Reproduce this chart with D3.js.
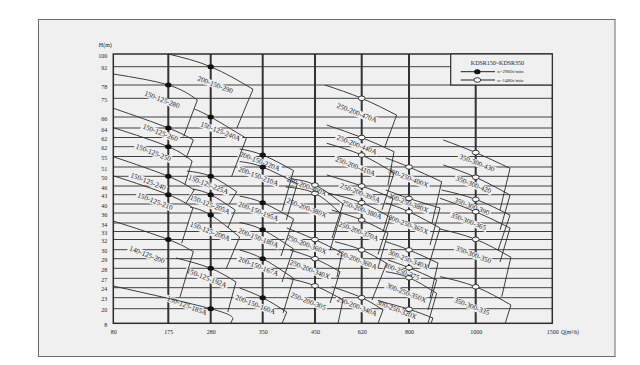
<!DOCTYPE html>
<head>
  <meta charset="utf-8">
  <script src="https://d3js.org/d3.v7.min.js"></script>
  <style>
    body { margin:0; background:#fff; }
    text { font-family: "Liberation Serif", "DejaVu Serif", serif; fill:#1e1e1e; }
    .grid-h { stroke:#404040; stroke-width:1; }
    .grid-v { stroke:#333; stroke-width:2; }
    .curve { fill:none; stroke:#2a2a2a; stroke-width:0.9; }
    .axis text { font-size:6px; }
    .label { font-size:7.2px; }
  </style>
</head>
<body>
  <svg id="chart" width="640" height="365"></svg>
  <script>
  var qTicks = [80, 175, 280, 350, 450, 620, 800, 1000, 1500];
  var hTicks = ["100","92","78","75","66","64","62","62","55","51","50","46","43",
                "40","36","34","33","32","30","29","28","27","24","23","20","8"];

  // each pump: name, left end, rated point, right end, foot of boundary line, label spot
  // points are [Q, H row]; H rows count down the ruled lines from the top (100 = row 0)
  var pumps175 = [
    ["150-125-280", [80,1.40], [175,2],  [247,3.09],  [213,5.89],  [164,3.09]],
    ["150-125-260", [80,3.53], [175,5],  [237,6.27],  [219,8.14],  [161,5.53]],
    ["150-125-250", [80,4.97], [175,7],  [234,8.43],  [216,10.85], [149,7.64]],
    ["150-125-240", [80,8.02], [175,10], [239,11.46], [219,12.89], [140,10.56]],
    ["150-125-210", [80,9.94], [175,12], [236,13.44], [208,17.37], [152,12.75]],
    ["140-125-200", [80,14.8], [175,17], [237,18.22], [204,22.93], [138,18.59]]
  ];
  var pumps280 = [
    ["200-150-290",  [175,0],     [280,1],    [337,2.32],  [315,5.05],  [286,2]],
    ["150-125-240A", [239,3.57],  [280,4],    [328,6.09],  [308,10.04], [293,5.39]],
    ["150-125-225A", [221,9.43],  [280,10],   [315,11.66], [305,13],    [274,10.9]],
    ["150-125-205A", [236,11.34], [280,12],   [313,13.67], [303,15.59], [278,13.11]],
    ["150-125-200A", [229,13.33], [280,14.2], [319,16.69], [301,20],    [278,16.03]],
    ["150-125-192A", [194,18.92], [280,20],   [314,21.39], [303,24.23], [270,21]],
    ["150-125-185A", [80,21.82],  [280,24],   [310,24.66], [307,25],    [221,23.75]]
  ];
  var pumps350 = [
    ["200-150-220A", [319,7.23],  [350,7.85],  [409,9.38],  [387,13.78], [346,8.5]],
    ["200-150-210A", [319,8.48],  [350,9],     [416,10.79], [395,14.7],  [344,10.04]],
    ["200-150-195A", [319,12.15], [350,12.86], [409,14.6],  [385,18.7],  [344,13.86]],
    ["200-150-180A", [319,14.95], [350,15.8],  [409,17.93], [387,21.39], [344,16.85]],
    ["200-150-167A", [319,18.03], [350,19],    [409,21],    [389,24.29], [344,19.83]],
    ["200-150-160A", [319,22.03], [350,23],    [396,24.23], [387,25],    [340,23.66]]
  ];
  var pumps450 = [
    ["250-200-400X", [406,10.28], [450,10.9],  [552,13],    [512,16.81], [434,11.08]],
    ["250-200-380X", [394,11.11], [450,11.85], [545,14.1],  [505,18.03], [434,13.48]],
    ["250-200-360X", [396,15.59], [450,17],    [548,18.37], [530,20.87], [434,17.54]],
    ["250-200-340X", [402,18.03], [450,19],    [541,20.34], [505,23.48], [440,20.17]],
    ["250-200-305",  [396,20.97], [450,21.8],  [552,23.21], [534,25],    [437,23.36]]
  ];
  var pumps620 = [
    ["250-200-470A", [486,2],     [620,3],     [753,3.9],   [708,7.03],  [602,3.8]],
    ["250-200-440A", [493,4.73],  [620,6],     [743,7.51],  [720,10.9],  [602,6.82]],
    ["250-200-410A", [493,6.63],  [620,7.85],  [743,9.65],  [697,13.67], [596,8.97]],
    ["250-200-395A", [493,9.86],  [620,11],    [739,12.38], [701,16.06], [614,11.84]],
    ["250-200-380A", [497,11.8],  [620,12.86], [728,14.41], [682,18.53], [620,13.67]],
    ["250-200-370A", [511,13.67], [620,14.7],  [720,16.18], [682,19.96], [608,16.02]],
    ["250-200-360A", [523,17.22], [620,18.03], [715,19.48], [659,23.21], [602,19.14]],
    ["250-200-340A", [511,21.89], [620,23],    [701,24.09], [682,25],    [602,23.82]]
  ];
  var pumps800 = [
    ["300-250-400X", [712,8.14],  [800,9],     [898,10.56], [869,15],    [797,10.2]],
    ["300-250-380X", [712,11.46], [800,12.4],  [893,13.44], [863,17.54], [797,12.93]],
    ["300-250-365X", [712,12.89], [800,13.86], [893,15.59], [857,19.97], [797,15.24]],
    ["300-250-340X", [712,17.22], [800,18.03], [887,19.45], [863,23.03], [797,19.14]],
    ["300-250-375",  [720,19.14], [800,19.94], [883,21.17], [857,24.09], [772,20.34]],
    ["300-250-350X", [712,20.34], [800,20.94], [883,22.56], [857,25],    [790,22.56]],
    ["300-250-320X", [682,23.27], [800,24.04], [872,24.64], [866,25],    [753,24.09]]
  ];
  var pumps1000 = [
    ["350-300-430", [903,6.27],  [1000,7.6],   [1224,9.14],  [1159,13.67], [1007,8.65]],
    ["350-300-420", [903,8.81],  [1000,10.1],  [1224,12.03], [1159,15.82], [993,10.9]],
    ["350-300-390", [898,11.46], [1000,12.5],  [1224,14.22], [1146,18.03], [988,13.3]],
    ["350-300-365", [893,12.38], [1000,13.86], [1224,15.59], [1159,19.34], [978,14.87]],
    ["350-300-350", [893,15.71], [1000,16.98], [1230,18.84], [1170,22.9],  [993,18.59]],
    ["350-300-335", [893,20.84], [1000,21.9],  [1230,23.66], [1193,25],    [988,23.82]]
  ];

  var legendTitle = "KDSR150~KDSR350";
  var speedLabels = ["n=2960r/min", "n=1480r/min"];

  // 2960 r/min pumps are filled dots, 1480 r/min are open
  var families = [
    {pumps: pumps175, fast: true}, {pumps: pumps280, fast: true}, {pumps: pumps350, fast: true},
    {pumps: pumps450, fast: false}, {pumps: pumps620, fast: false},
    {pumps: pumps800, fast: false}, {pumps: pumps1000, fast: false}
  ];

  var bg = "#f0f0f0";
  var ink = "#262626";
  var labelAngle = 21;
  var legendLeft = 450.7;

  var svg = d3.select("#chart");

  svg.append("rect")
    .attr("x", 38.5).attr("y", 19.5)
    .attr("width", 576.5).attr("height", 337)
    .attr("fill", bg).attr("stroke", "#6a6a6a").attr("stroke-width", 1);

  // the original spaces its ticks by hand, so both scales are piecewise
  var x = d3.scaleLinear()
    .domain(qTicks)
    .range([113.3, 168.3, 210.7, 262.7, 315, 361.7, 409, 475.7, 552.3]);

  var y = d3.scaleLinear()
    .domain(d3.range(hTicks.length))
    .range([54, 66.7, 85, 98.3, 117, 128, 137.5, 146.7, 156.5, 167, 176.3, 186, 194.7,
            204, 213, 223, 231.5, 239.5, 249.7, 258.7, 268.3, 278.3, 287.7, 297.7, 308.7, 323.3]);

  var lastRow = hTicks.length - 1;

  var gridLayer = svg.append("g");
  var maskLayer = svg.append("g");
  var curveLayer = svg.append("g");
  var dotLayer = svg.append("g");
  var labelLayer = svg.append("g");

  // ruled lines
  gridLayer.selectAll(".grid-h")
    .data(d3.range(1, lastRow))
    .enter().append("line")
    .attr("class", "grid-h")
    .attr("x1", x(qTicks[0]))
    .attr("x2", function(d) { return d === 1 ? legendLeft : x(qTicks[qTicks.length - 1]); })
    .attr("y1", function(d) { return y(d); })
    .attr("y2", function(d) { return y(d); });

  gridLayer.selectAll(".grid-v")
    .data(qTicks.slice(1, -1))
    .enter().append("line")
    .attr("class", "grid-v")
    .attr("x1", function(d) { return x(d); })
    .attr("x2", function(d) { return x(d); })
    .attr("y1", function(d) { return d === 1000 ? y(2) : y(0); })
    .attr("y2", y(lastRow));

  gridLayer.append("rect")
    .attr("x", x(qTicks[0])).attr("y", y(0))
    .attr("width", x(qTicks[qTicks.length - 1]) - x(qTicks[0]))
    .attr("height", y(lastRow) - y(0))
    .attr("fill", "none").attr("stroke", "#2e2e2e").attr("stroke-width", 1.5);

  // axes
  var xAxis = d3.axisBottom(x).tickValues(qTicks)
    .tickFormat(function(d) { return String(d); })
    .tickSize(0).tickPadding(6);
  var yAxis = d3.axisLeft(y).tickValues(d3.range(hTicks.length))
    .tickFormat(function(i) { return hTicks[i]; })
    .tickSize(0).tickPadding(6);

  svg.append("g").attr("class", "axis")
    .attr("transform", "translate(0," + y(lastRow) + ")")
    .call(xAxis)
    .call(function(g) { g.select(".domain").remove(); });

  svg.append("g").attr("class", "axis")
    .attr("transform", "translate(" + x(qTicks[0]) + ",0)")
    .call(yAxis)
    .call(function(g) { g.select(".domain").remove(); })
    .selectAll("text").attr("dy", "0.5em");

  svg.selectAll(".axis text").attr("font-family", null).attr("fill", ink);

  svg.append("text")
    .attr("x", 105.3).attr("y", 47)
    .attr("text-anchor", "middle")
    .attr("fill", ink)
    .style("font-size", "6px")
    .text("H(m)");

  svg.append("text")
    .attr("x", 561).attr("y", 333.6)
    .attr("fill", ink)
    .style("font-size", "5.5px")
    .text("Q(m³/h)");

  // pump curves
  var curveLine = d3.line()
    .x(function(d) { return x(d[0]); })
    .y(function(d) { return y(d[1]); })
    .curve(d3.curveNatural);

  families.forEach(function(fam) {
    fam.pumps.forEach(function(p) {
      curveLayer.append("path")
        .attr("class", "curve")
        .attr("d", curveLine([p[1], p[2], p[3]]));

      curveLayer.append("line")
        .attr("class", "curve")
        .attr("x1", x(p[3][0])).attr("y1", y(p[3][1]))
        .attr("x2", x(p[4][0])).attr("y2", y(p[4][1]));

      drawDot(dotLayer, x(p[2][0]), y(p[2][1]), fam.fast);

      var lx = x(p[5][0]), ly = y(p[5][1]);
      var t = labelLayer.append("text")
        .attr("class", "label")
        .attr("fill", ink)
        .attr("text-anchor", "middle")
        .attr("dominant-baseline", "central")
        .attr("transform", "translate(" + lx + "," + ly + ") rotate(" + labelAngle + ")")
        .text(p[0]);

      // clear the ruled lines behind each label, as the print does
      var w = t.node().getComputedTextLength() + 3;
      maskLayer.append("rect")
        .attr("x", -w / 2).attr("y", -3.5)
        .attr("width", w).attr("height", 7)
        .attr("fill", bg)
        .attr("transform", "translate(" + lx + "," + ly + ") rotate(" + labelAngle + ")");
    });
  });

  function drawDot(g, cx, cy, fast) {
    g.append("ellipse")
      .attr("cx", cx).attr("cy", cy)
      .attr("rx", fast ? 3.2 : 3.4).attr("ry", fast ? 2.5 : 2.3)
      .attr("fill", fast ? "#111" : "#fafafa")
      .attr("stroke", fast ? "none" : "#222")
      .attr("stroke-width", 0.9);
  }

  // legend
  var lg = svg.append("g");
  lg.append("rect")
    .attr("x", legendLeft).attr("y", y(0))
    .attr("width", x(qTicks[qTicks.length - 1]) - legendLeft)
    .attr("height", y(2) - y(0))
    .attr("fill", bg).attr("stroke", "#2e2e2e").attr("stroke-width", 1.2);

  lg.append("text")
    .attr("x", 497.5).attr("y", 63.3)
    .attr("text-anchor", "middle")
    .attr("dominant-baseline", "central")
    .attr("fill", ink)
    .style("font-size", "6px")
    .text(legendTitle);

  speedLabels.forEach(function(s, i) {
    var ly = 71.7 + i * 8.3;
    lg.append("line")
      .attr("x1", 460.7).attr("x2", 495)
      .attr("y1", ly).attr("y2", ly)
      .attr("stroke", "#222").attr("stroke-width", 1);
    drawDot(lg, 477.3, ly, i === 0);
    lg.append("text")
      .attr("x", 497.3).attr("y", ly)
      .attr("dominant-baseline", "central")
      .attr("fill", ink)
      .style("font-size", "5px")
      .text(s);
  });
  </script>
</body>
